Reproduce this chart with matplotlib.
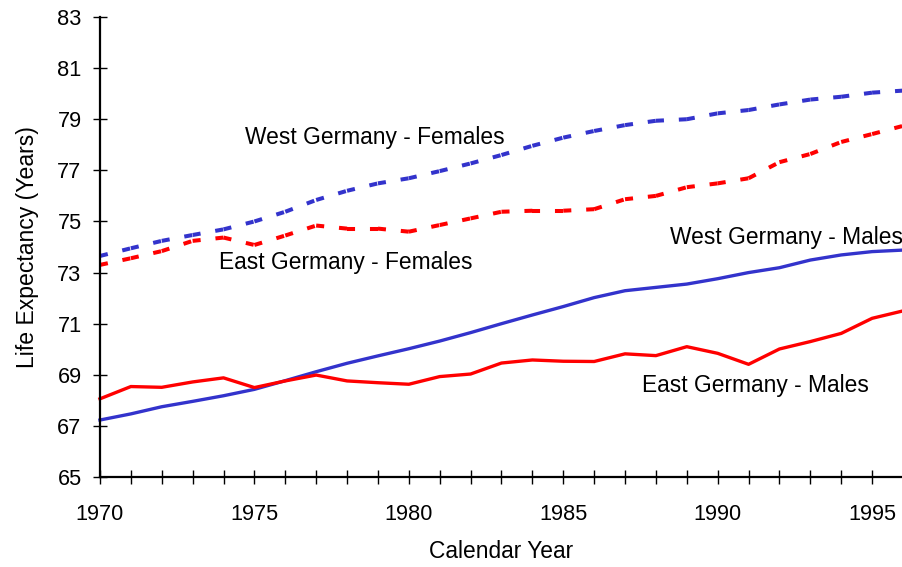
import matplotlib
matplotlib.use("Agg")
import matplotlib.pyplot as plt
from matplotlib.ticker import MultipleLocator

plt.rcParams["font.family"] = ["Liberation Sans", "DejaVu Sans"]

years = list(range(1970, 1997))

west_females = [73.65, 73.95, 74.24, 74.47, 74.69, 75.00, 75.38, 75.84, 76.20,
                76.49, 76.69, 76.97, 77.27, 77.60, 77.96, 78.28, 78.54, 78.77,
                78.94, 79.00, 79.23, 79.36, 79.58, 79.77, 79.88, 80.04, 80.12]
east_females = [73.30, 73.56, 73.84, 74.24, 74.37, 74.08, 74.45, 74.84, 74.72,
                74.72, 74.60, 74.86, 75.12, 75.38, 75.42, 75.42, 75.48, 75.87,
                76.00, 76.34, 76.49, 76.69, 77.32, 77.64, 78.11, 78.42, 78.74]
west_males = [67.23, 67.47, 67.75, 67.96, 68.18, 68.43, 68.77, 69.12, 69.45,
              69.74, 70.02, 70.32, 70.65, 71.00, 71.34, 71.67, 72.02, 72.29,
              72.42, 72.55, 72.76, 73.00, 73.19, 73.49, 73.69, 73.82, 73.88]
east_males = [68.06, 68.54, 68.51, 68.72, 68.88, 68.50, 68.76, 68.99, 68.76,
              68.69, 68.63, 68.93, 69.03, 69.46, 69.58, 69.53, 69.52, 69.82,
              69.75, 70.10, 69.84, 69.41, 70.01, 70.30, 70.62, 71.21, 71.50]

BLUE = "#3333CC"
RED = "#FF0000"
LW = 2.4
LW_DASH = 2.9
DASH = (0, (2.0, 3.7))


def dashed(ax, xs, ys, color):
    # dash pattern restarts at every data point, like the original spreadsheet chart
    for i in range(len(xs) - 1):
        ax.plot(xs[i:i + 2], ys[i:i + 2], color=color, lw=LW_DASH, ls=DASH,
                dash_capstyle="butt", clip_on=False)


fig = plt.figure(figsize=(9.03, 5.67), dpi=100)
ax = fig.add_axes([0.1107, 0.1587, 0.8893, 0.8113])

dashed(ax, years, west_females, BLUE)
dashed(ax, years, east_females, RED)
ax.plot(years, west_males, color=BLUE, lw=LW, clip_on=False)
ax.plot(years, east_males, color=RED, lw=LW, clip_on=False)

labels = {
    "West Germany - Females": (1974.7, 78.27),
    "East Germany - Females": (1973.85, 73.41),
    "West Germany - Males": (1988.46, 74.39),
    "East Germany - Males": (1987.55, 68.6),
}
for txt, (x, y) in labels.items():
    ax.text(x, y, txt, fontsize=16.4, va="center", ha="left")

ax.set_xlim(1970, 1996)
ax.set_ylim(65, 83)
ax.set_yticks(range(65, 84, 2))
ax.xaxis.set_major_locator(MultipleLocator(5))
ax.xaxis.set_minor_locator(MultipleLocator(1))

for side in ("top", "right"):
    ax.spines[side].set_visible(False)
for side in ("left", "bottom"):
    ax.spines[side].set_linewidth(1.6)

ax.tick_params(which="both", direction="inout", length=10.5, width=1, labelsize=15.7, color="black")
ax.tick_params(axis="x", which="major", pad=14)
ax.tick_params(axis="y", which="major", pad=8)
ax.set_xlabel("Calendar Year", fontsize=16.4, labelpad=11)
ax.set_ylabel("Life Expectancy (Years)", fontsize=16.6, labelpad=13)

fig.savefig("out.png", dpi=100)
